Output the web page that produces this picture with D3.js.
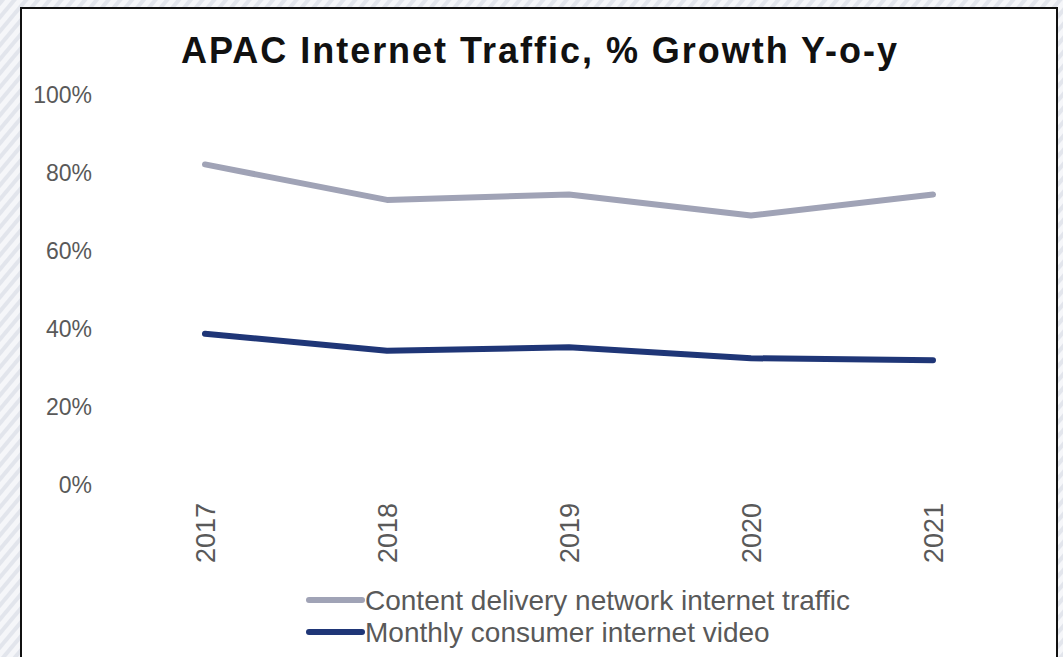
<!DOCTYPE html>
<html>
<head>
<meta charset="utf-8">
<script src="https://cdn.jsdelivr.net/npm/d3@7"></script>
<style>
  body { margin: 0; padding: 0; background: #fff; }
  svg { display: block; }
</style>
</head>
<body>
<div id="chart"></div>
<script>
// data
var years = ["2017", "2018", "2019", "2020", "2021"];
var cdnTraffic = [82.2, 73.1, 74.5, 69.1, 74.5];
var videoTraffic = [38.8, 34.4, 35.3, 32.5, 32.0];
var seriesNames = ["Content delivery network internet traffic", "Monthly consumer internet video"];
var yTicks = [0, 20, 40, 60, 80, 100];

var width = 1063, height = 657;
var font = "'Liberation Sans', Arial, sans-serif";

var svg = d3.select("#chart").append("svg")
    .attr("width", width)
    .attr("height", height);

// striped background
var pat = svg.append("defs").append("pattern")
    .attr("id", "stripes")
    .attr("patternUnits", "userSpaceOnUse")
    .attr("width", 9)
    .attr("height", 9)
    .attr("patternTransform", "rotate(40)");
pat.append("rect").attr("width", 9).attr("height", 9).attr("fill", "#f5f6f9");
pat.append("rect").attr("width", 4).attr("height", 9).attr("fill", "#e2e5ec");

svg.append("rect")
    .attr("width", width).attr("height", height)
    .attr("fill", "url(#stripes)");

// white chart box
svg.append("rect")
    .attr("x", 21).attr("y", 8)
    .attr("width", 1036).attr("height", 660)
    .attr("fill", "#fff")
    .attr("stroke", "#111")
    .attr("stroke-width", 2);

svg.append("text")
    .attr("x", 181).attr("y", 63)
    .attr("textLength", 716)
    .attr("lengthAdjust", "spacing")
    .style("font-family", font)
    .style("font-size", "36px")
    .style("font-weight", "bold")
    .attr("fill", "#111")
    .text("APAC Internet Traffic, % Growth Y-o-y");

var x = d3.scalePoint().domain(years).range([205, 933]);
var y = d3.scaleLinear().domain([0, 100]).range([485, 95]);

var yAxis = svg.append("g")
    .attr("transform", "translate(92,0)")
    .call(d3.axisLeft(y).tickValues(yTicks).tickSize(0).tickPadding(0)
        .tickFormat(function(d) { return d + "%"; }));
yAxis.select(".domain").remove();
yAxis.selectAll("text")
    .style("font-family", font)
    .style("font-size", "23px")
    .attr("fill", "#595959");

var xAxis = svg.append("g")
    .attr("transform", "translate(0,503)")
    .call(d3.axisBottom(x).tickSize(0));
xAxis.select(".domain").remove();
xAxis.selectAll("text")
    .style("font-family", font)
    .style("font-size", "27px")
    .attr("fill", "#595959")
    .attr("transform", "rotate(-90)")
    .attr("text-anchor", "end")
    .attr("x", 0)
    .attr("y", 0)
    .attr("dy", "0.35em");

var line = d3.line()
    .x(function(d, i) { return x(years[i]); })
    .y(function(d) { return y(d); });

var colors = ["#a0a3b6", "#1f3677"];
[cdnTraffic, videoTraffic].forEach(function(s, k) {
    svg.append("path")
        .datum(s)
        .attr("d", line)
        .attr("fill", "none")
        .attr("stroke", colors[k])
        .attr("stroke-width", 6)
        .attr("stroke-linecap", "round")
        .attr("stroke-linejoin", "round");
});

// legend
seriesNames.forEach(function(name, k) {
    var ly = 600 + k * 32;
    svg.append("line")
        .attr("x1", 309).attr("x2", 362)
        .attr("y1", ly).attr("y2", ly)
        .attr("stroke", colors[k])
        .attr("stroke-width", 6)
        .attr("stroke-linecap", "round");
    svg.append("text")
        .attr("x", 365).attr("y", ly)
        .attr("dy", "0.35em")
        .style("font-family", font)
        .style("font-size", "28px")
        .attr("fill", "#595959")
        .text(name);
});
</script>
</body>
</html>
